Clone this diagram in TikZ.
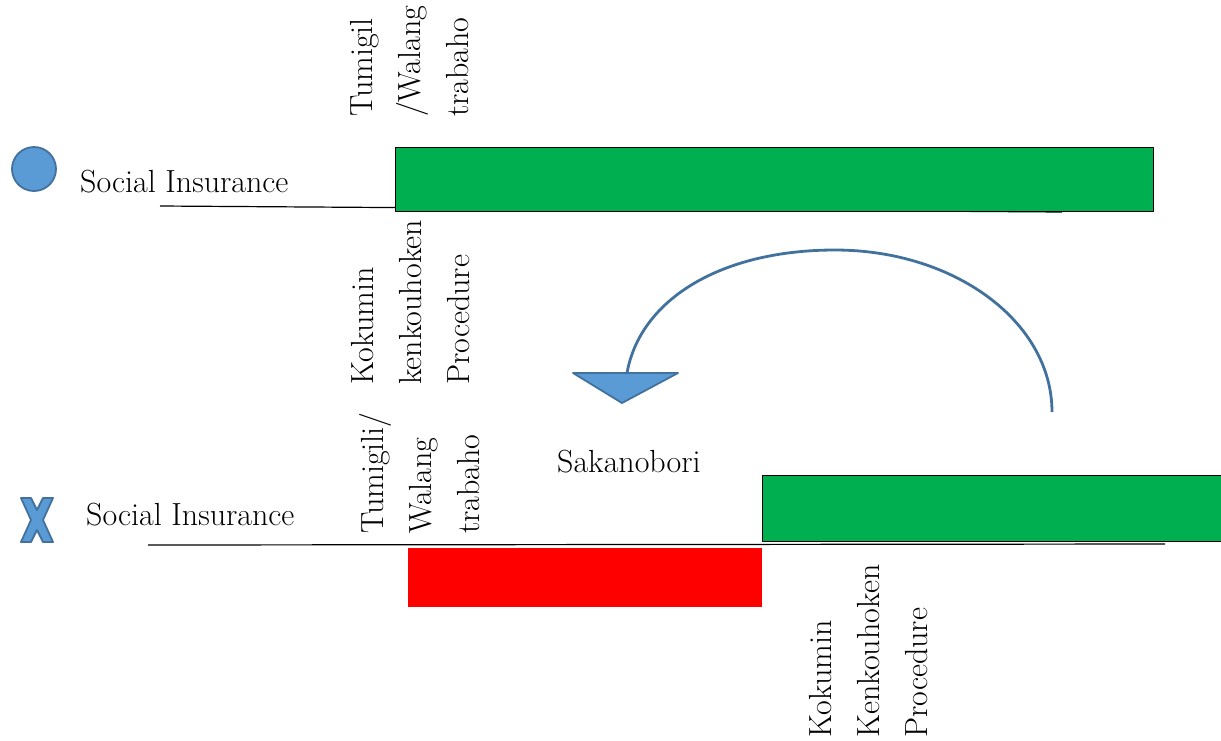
\documentclass[tikz,border=0pt]{standalone}
\usepackage{tikz}
\usetikzlibrary{positioning}
\definecolor{sblue}{HTML}{5B9BD5}
\definecolor{sbluedk}{HTML}{41719C}
\definecolor{bargreen}{HTML}{00B050}
\definecolor{barred}{HTML}{FF0000}
\tikzset{
  lab/.style      = {font=\fontsize{32}{38}\selectfont, inner sep=0pt},
  hlab/.style     = {lab, anchor=base west},
  vlab/.style     = {lab, rotate=90, anchor=base west},
  bluesign/.style = {fill=sblue, draw=sbluedk, line width=1.8pt},
  greenbar/.style = {fill=bargreen, draw=black, line width=0.9pt},
  redbar/.style   = {fill=barred},
  timeline/.style = {draw=black, line width=1.2pt},
  backarc/.style  = {draw=sbluedk, line width=2.8pt, line cap=butt},
}

\begin{document}
\begin{tikzpicture}[x=1pt, y=-1pt, line join=round]
  \useasboundingbox (0,0) rectangle (1221,740);
  % upper row
  \draw[timeline] (160,206) -- (1062,212);
  \draw[greenbar] (395,147) rectangle (1153,211);
  \draw[bluesign] (34,169) circle[radius=22];
  \node[hlab] (insok) at (80,192) {Social Insurance};
  \foreach \txt [count=\k from 0] in {Tumigil, /Walang, trabaho}
    \node[vlab] (topl\k) at (372+48*\k,117) {\txt};
  \foreach \txt [count=\k from 0] in {Kokumin, kenkouhoken, Procedure}
    \node[vlab] (midl\k) at (373+48*\k,385) {\txt};
  % going back
  \coordinate (arcstart) at (1052,412);
  \coordinate (arctop) at (835,250);
  \coordinate (tritop) at (627,373);
  \draw[backarc] (arcstart) .. controls (1052,322) and (955,250) .. (arctop)
    .. controls (720,250) and (640,300) .. (tritop);
  \draw[bluesign] (573,373) -- (678,373) -- (622,403) -- cycle;
  \node[hlab] (sakano) at (557,472) {Sakanobori};
  % lower row
  \fill[redbar] (408,548) rectangle (762,607);
  \draw[greenbar] (762,475) rectangle (1232,541);
  \draw[timeline] (148,545) -- (1165,544);
  \draw[bluesign, shift={(37,520)}] (-16,-22) -- (-6,-22) -- (0,-10) -- (6,-22)
    -- (16,-22) -- (6,0) -- (16,22) -- (6,22) -- (0,10) -- (-6,22)
    -- (-16,22) -- (-6,0) -- cycle;
  \node[hlab] (insng) at (86,525) {Social Insurance};
  \foreach \txt [count=\k from 0] in {Tumigili/, Walang, trabaho}
    \node[vlab] (lowl\k) at (383+48*\k,534) {\txt};
  \foreach \txt [count=\k from 0] in {Kokumin, Kenkouhoken, Procedure}
    \node[vlab] (endl\k) at (831+48*\k,738) {\txt};
\end{tikzpicture}
\end{document}
